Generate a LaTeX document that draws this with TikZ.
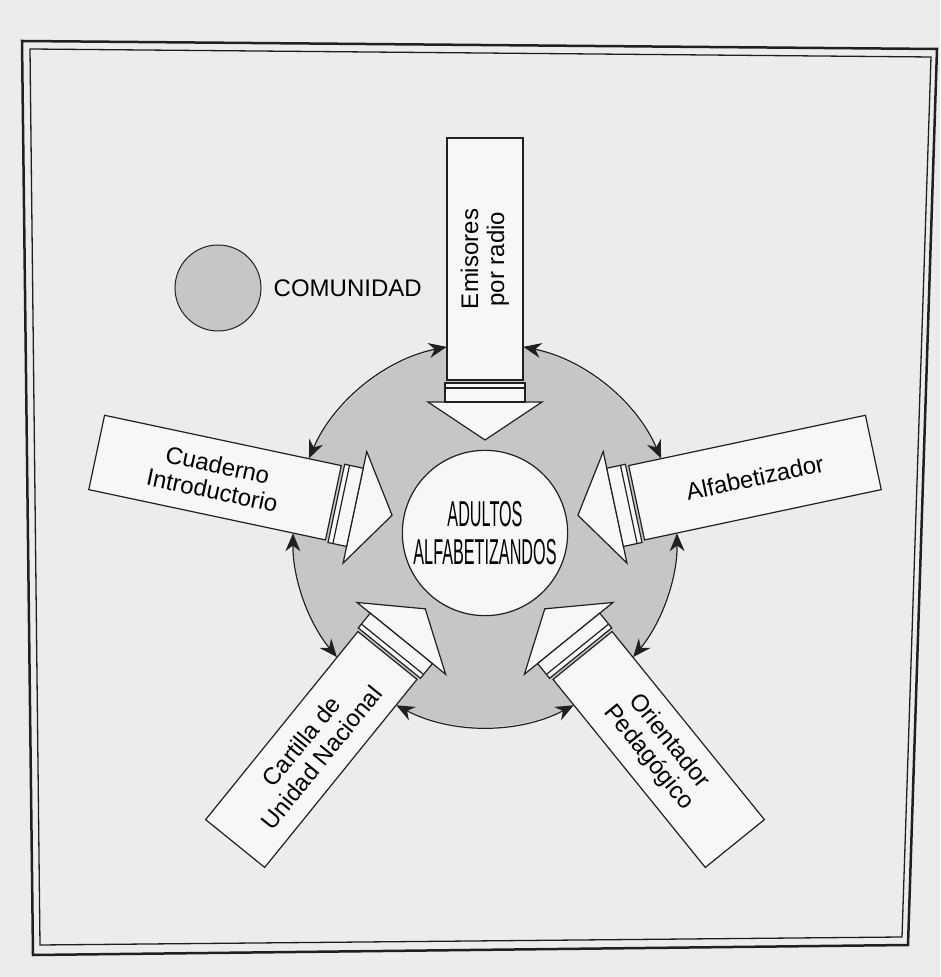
\documentclass[tikz,border=0pt]{standalone}
\usepackage{fontspec}
\setmainfont{Liberation Sans}
\newfontfamily\condfont[FakeStretch=0.45]{Liberation Sans}
\usetikzlibrary{calc, positioning, arrows.meta}

\colorlet{paper}{gray!15}
\colorlet{ring}{gray!45}
\colorlet{boxfill}{gray!6}
\colorlet{ink}{gray!25!black}

\tikzset{
  armbox/.style={draw=ink, line width=1.2pt, fill=boxfill, minimum width=242pt, minimum height=76pt,
    inner sep=0pt, align=center, font=\fontsize{24}{26}\selectfont},
  armhead/.style={draw=ink, line width=1.2pt, fill=boxfill},
  ringarrow/.style={draw=ink, line width=1.2pt, {Stealth[length=18pt,width=15pt]}-{Stealth[length=18pt,width=15pt]}},
}

\begin{document}
\begin{tikzpicture}[x=1pt,y=1pt]
    \fill[paper] (0,0) rectangle (940,977);
    \useasboundingbox (0,0) rectangle (940,977);
    % double frame
    \draw[line width=2.5pt, ink] (22,936) -- (937,928) -- (908,32) -- (33,22) -- cycle;
    \draw[line width=1.3pt, ink] (30,928) -- (931,920) -- (902,40) -- (40,32) -- cycle;

    \coordinate (C) at (485,442);

    % legend
    \node[circle, draw=ink, fill=ring, minimum size=86pt, line width=1pt] (comunidad) at (218,689) {};
    \node[right=12pt of comunidad, inner sep=0pt, font=\fontsize{24}{24}\selectfont] (comlabel) {COMUNIDAD};

    % community ring
    \fill[ring] (C) circle (192);

    % block arrows into the centre
    \foreach \a in {90,168,12,231,309}{
        \begin{scope}[shift={(C)}, rotate=\a]
            \draw[armhead] (133,-57) -- (133,57) -- (95,0) -- cycle;
            \draw[armhead] (133,-40) rectangle (152,40);
            \draw[ink, line width=1.2pt] (147,-40) -- (147,40);
        \end{scope}
    }

    % boxes
    \node[armbox, rotate=90] (emisores) at ($(C)+(90:276)$) {Emisores\\por radio};
    \node[armbox, rotate=-12] (cuaderno) at ($(C)+(168:276)$) {Cuaderno\\Introductorio};
    \node[armbox, rotate=12] (alfab) at ($(C)+(12:276)$) {Alfabetizador};
    \node[armbox, rotate=51] (cartilla) at ($(C)+(231:276)$) {Cartilla de\\Unidad Nacional};
    \node[armbox, rotate=-51] (orientador) at ($(C)+(309:276)$) {Orientador\\Pedagógico};

    % arrows round the ring, box to box
    \foreach \s/\e in {101.5/156.5, 179.5/219.5, 242.5/297.5, 320.5/360.5, 23.5/78.5}
        \draw[ringarrow] ($(C)+(\s:192)$) arc[start angle=\s, end angle=\e, radius=192];

    % centre
    \node[circle, draw=ink, fill=boxfill, minimum size=156pt, line width=1.2pt, align=center,
        font=\condfont\fontsize{36}{38}\selectfont] (adultos) at (485,444) {ADULTOS\\ALFABETIZANDOS};
\end{tikzpicture}
\end{document}
